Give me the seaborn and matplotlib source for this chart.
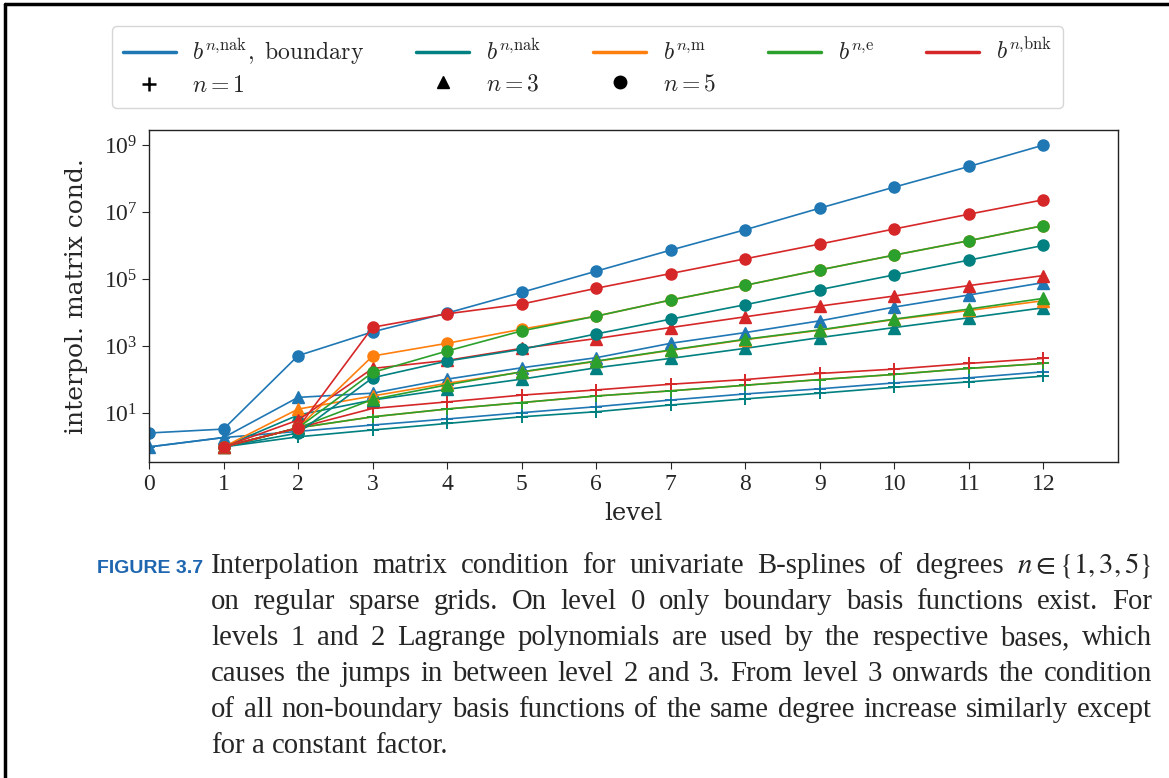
import matplotlib
matplotlib.use("Agg")
import matplotlib.pyplot as plt
from matplotlib.lines import Line2D
from matplotlib.ticker import FixedLocator, NullLocator, LogFormatterMathtext
import seaborn as sns

# ---------------------------------------------------------------- data
levels_bd = [0, 1, 2, 3, 4, 5, 6, 7, 8, 9, 10, 11, 12]
levels = [1, 2, 3, 4, 5, 6, 7, 8, 9, 10, 11, 12]

# b^{n,nak}, boundary (levels 0..12)
nak_bd_n1 = [1.0, 1.9, 2.9, 4.5, 6.8, 10.5, 15.8, 25, 38, 54, 81, 115, 174]
nak_bd_n3 = [1.0, 1.9, 30, 40, 105, 229, 457, 1230, 2570, 5750, 14800, 33900, 79400]
nak_bd_n5 = [2.6, 3.4, 525, 2700, 9800, 40700, 1.74e5, 7.4e5, 3.0e6, 1.32e7, 5.6e7, 2.3e8, 1.0e9]

# b^{n,nak} (levels 1..12)
nak_n1 = [1.0, 2.0, 3.2, 5.0, 7.9, 11.2, 17.8, 27, 40, 60, 87, 129]
nak_n3 = [1.0, 8.9, 25, 52, 105, 229, 437, 870, 1820, 3630, 7080, 14100]
nak_n5 = [1.0, 2.6, 115, 363, 813, 2340, 6460, 17400, 49000, 1.35e5, 3.72e5, 1.02e6]

# b^{n,m}
m_n1 = [1.0, 3.7, 7.9, 13.5, 21, 33, 47, 69, 102, 145, 219, 309]
m_n3 = [1.0, 13.4, 33, 79, 170, 355, 760, 1580, 3020, 6300, 11700, 22900]
m_n5 = [1.0, 3.7, 513, 1230, 3240, 7940, 24000, 66000, 1.9e5, 5.25e5, 1.41e6, 3.98e6]

# b^{n,e}
e_n1 = [1.0, 3.7, 7.9, 13.5, 21, 33, 47, 69, 102, 145, 219, 309]
e_n3 = [1.0, 3.7, 26, 71, 174, 363, 776, 1620, 3090, 6460, 12900, 26900]
e_n5 = [1.0, 3.7, 166, 724, 2880, 7940, 24000, 66000, 1.9e5, 5.25e5, 1.41e6, 3.98e6]

# b^{n,bnk}
bnk_n1 = [1.0, 3.7, 14, 22, 35, 50, 74, 102, 155, 209, 309, 437]
bnk_n3 = [1.0, 6.3, 219, 380, 870, 1700, 3630, 7590, 15800, 31600, 64600, 1.29e5]
bnk_n5 = [1.0, 3.7, 3700, 9300, 18200, 53700, 1.48e5, 4.07e5, 1.12e6, 3.16e6, 8.7e6, 2.34e7]

basis_labels = [r"$b^{n{,}\mathrm{nak}},\ \mathrm{boundary}$", r"$b^{n{,}\mathrm{nak}}$",
                r"$b^{n{,}\mathrm{m}}$", r"$b^{n{,}\mathrm{e}}$", r"$b^{n{,}\mathrm{bnk}}$"]
degree_labels = [r"$n = 1$", r"$n = 3$", r"$n = 5$"]
x_ticks = [0, 1, 2, 3, 4, 5, 6, 7, 8, 9, 10, 11, 12]
y_ticks = [1e1, 1e3, 1e5, 1e7, 1e9]

caption_tag = "FIGURE 3.7"
caption_lines = [
    r"Interpolation matrix condition for univariate B-splines of degrees $n\in\{1,3,5\}$",
    "on regular sparse grids.  On level 0 only boundary basis functions exist.  For",
    "levels 1 and 2 Lagrange polynomials are used by the respective bases, which",
    "causes the jumps in between level 2 and 3. From level 3 onwards the condition",
    "of all non-boundary basis functions of the same degree increase similarly except",
    "for a constant factor.",
]

# ---------------------------------------------------------------- style
sns.set_style("ticks")
plt.rcParams.update({
    "font.family": ["Liberation Serif", "DejaVu Serif"],
    "mathtext.fontset": "cm",
    "axes.linewidth": 1.0,
    "xtick.major.size": 5,
    "ytick.major.size": 5,
    "xtick.labelsize": 17,
    "ytick.labelsize": 17,
})

colors = ["#1f77b4", "#008080", "#ff7f0e", "#2ca02c", "#d62728"]
markers = ["+", "^", "o"]
msizes = [9, 8, 8]
mews = [1.4, 1.0, 1.0]

W, H = 1169, 778
fig = plt.figure(figsize=(W / 100, H / 100), dpi=100)
ax = fig.add_axes([149 / W, (H - 462) / H, (1118 - 149) / W, (462 - 130) / H])

series = {
    0: [(levels_bd, nak_bd_n1), (levels, nak_n1), (levels, m_n1), (levels, e_n1), (levels, bnk_n1)],
    1: [(levels_bd, nak_bd_n3), (levels, nak_n3), (levels, m_n3), (levels, e_n3), (levels, bnk_n3)],
    2: [(levels_bd, nak_bd_n5), (levels, nak_n5), (levels, m_n5), (levels, e_n5), (levels, bnk_n5)],
}

# draw by degree, then by basis
for d in range(3):
    for b, (xs, ys) in enumerate(series[d]):
        sns.lineplot(x=xs, y=ys, ax=ax, color=colors[b], linewidth=1.2,
                     marker=markers[d], markersize=msizes[d],
                     markeredgecolor=colors[b], markeredgewidth=mews[d],
                     legend=False)

ax.set_yscale("log")
ax.set_xlim(0, 13)
ax.xaxis.set_major_locator(FixedLocator(x_ticks))
ax.yaxis.set_major_locator(FixedLocator(y_ticks))
ax.yaxis.set_major_formatter(LogFormatterMathtext())
ax.yaxis.set_minor_locator(NullLocator())
label_font = ["DejaVu Serif"]
ax.set_xlabel("level", fontsize=17.5, family=label_font)
ax.set_ylabel("interpol. matrix cond.", fontsize=18, family=label_font)
ax.yaxis.set_label_coords((88 - 149) / 969, 0.5)
ax.xaxis.set_label_coords(0.5, (462 - 502) / 332)
for s in ax.spines.values():
    s.set_visible(True)
    s.set_color("#222222")

# legend: bases as coloured lines, degrees as black markers
handles, labels = [], []
order = [("b", 0), ("d", 0), ("b", 1), ("d", 1), ("b", 2), ("d", 2), ("b", 3), ("b", 4)]
for kind, i in order:
    if kind == "b":
        handles.append(Line2D([], [], color=colors[i], lw=2.5))
        labels.append(basis_labels[i])
    else:
        handles.append(Line2D([], [], color="black", lw=0, marker=markers[i],
                              markersize=10 if i == 0 else 9,
                              markeredgewidth=1.8 if i == 0 else 1.0))
        labels.append(degree_labels[i])
fig.legend(handles, labels, loc="upper left", bbox_to_anchor=(112 / W, 1 - 26 / H),
           borderaxespad=0.0, ncol=5, fontsize=17, frameon=True, columnspacing=2.2,
           handlelength=2.25, handletextpad=0.7, borderpad=0.45, labelspacing=0.35)

# page frame
fig.add_artist(Line2D([5 / W, 1.0], [1 - 4 / H, 1 - 4 / H], transform=fig.transFigure,
                      color="black", lw=2.5))
fig.add_artist(Line2D([5 / W, 5 / W], [0.0, 1 - 4 / H], transform=fig.transFigure,
                      color="black", lw=2.5))

# caption, justified word by word
renderer = fig.canvas.get_renderer()
x0, x1 = 211, 1152
baselines = [573, 609, 645, 681, 717, 753]
cap_fonts = ["Liberation Serif", "DejaVu Serif"]


def measure(word, size):
    t = fig.text(0, 0, word, fontsize=size, family=cap_fonts, math_fontfamily="stix")
    w = t.get_window_extent(renderer).width
    t.remove()
    return w


def natural_width(line, size):
    words = line.split()
    sp = measure("a a", size) - 2 * measure("a", size)
    return sum(measure(w, size) for w in words) + sp * (len(words) - 1)


cap_size = 18.0
widest = max(natural_width(ln, cap_size) for ln in caption_lines)
cap_size *= (x1 - x0) * 0.985 / widest
space_w = measure("a a", cap_size) - 2 * measure("a", cap_size)

for k, (ln, yb) in enumerate(zip(caption_lines, baselines)):
    words = ln.split()
    widths = [measure(w, cap_size) for w in words]
    if k < len(caption_lines) - 1:
        gap = (x1 - x0 - sum(widths)) / (len(words) - 1)
    else:
        gap = space_w
    x = x0
    for w, wd in zip(words, widths):
        fig.text(x / W, 1 - yb / H, w, fontsize=cap_size, family=cap_fonts,
                 math_fontfamily="stix", va="baseline", ha="left")
        x += wd + gap

fig.text(97 / W, 1 - baselines[0] / H, caption_tag, fontsize=14, fontweight="bold",
         family=["Liberation Sans Narrow", "Liberation Sans", "DejaVu Sans"],
         color="#1f66b0", va="baseline", ha="left")

fig.savefig("out.png", dpi=100)
